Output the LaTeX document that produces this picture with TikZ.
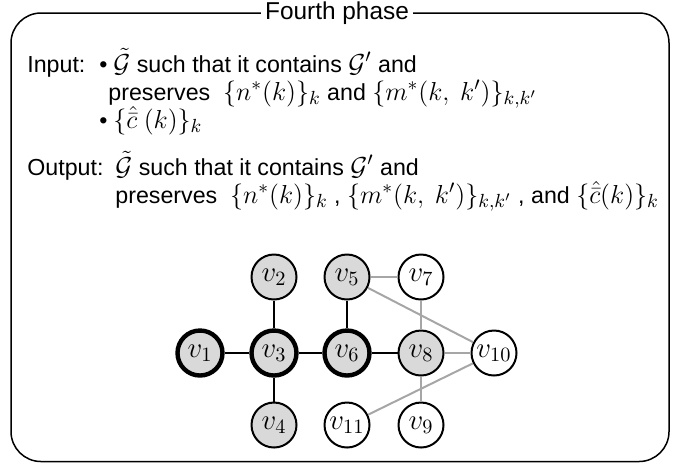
\RequirePackage{fix-cm}
\documentclass[tikz,border=0pt]{standalone}
\usepackage{amsmath, amssymb}
\usepackage{fontspec}
\setmainfont{Liberation Sans}
\usepackage{tikz}
\DeclareMathSizes{11.6}{13}{9.5}{7}

\begin{document}
\begin{tikzpicture}[x=0.5pt, y=-0.5pt,
    vtx/.style={circle, draw=black, line width=1pt, fill=black!15, minimum size=22.5pt, inner sep=0pt, font=\fontsize{14.5}{16}\selectfont},
    vbold/.style={vtx, line width=2.2pt},
    vfree/.style={vtx, fill=white},
    txt/.style={anchor=base west, inner sep=0pt, font=\fontsize{11.6}{14}\selectfont}]
    \useasboundingbox (0,0) rectangle (678,463);

    % Frame with its title
    \draw[line width=0.75pt, rounded corners=15pt] (11,13) rectangle (669,461.5);
    \node[fill=white, inner sep=2pt, font=\fontsize{12.2}{15}\selectfont] (title) at (337,13) {Fourth phase};

    % Input and output
    \node[txt] (in) at (27,72) {Input:};
    \node[txt] (b1) at (99,72) {\textbullet};
    \node[txt] (in1) at (113,72) {$\tilde{\mathcal{G}}$ such that it contains $\mathcal{G}'$ and};
    \node[txt] (in2) at (108,100) {preserves~ $\{n^{*}(k)\}_{k}$ and $\{m^{*}(k,\ k')\}_{k,k'}$};
    \node[txt] (b2) at (99,128) {\textbullet};
    \node[txt] (in3) at (113,128) {$\{\hat{\bar{c}}\ (k)\}_{k}$};
    \node[txt] (out) at (27,175) {Output:};
    \node[txt] (out1) at (115,175) {$\tilde{\mathcal{G}}$ such that it contains $\mathcal{G}'$ and};
    \node[txt] (out2) at (115,203) {preserves~ $\{n^{*}(k)\}_{k}$ , $\{m^{*}(k,\ k')\}_{k,k'}$ , and $\{\hat{\bar{c}}(k)\}_{k}$};

    % Vertices
    \foreach \n/\x/\y/\s in {1/200/353/vbold, 3/274/353/vbold, 6/347/353/vbold,
        2/274/277/vtx, 4/274/425/vtx, 5/347/277/vtx, 8/421/353/vtx,
        7/421/277/vfree, 9/421/425/vfree, 10/494/353/vfree, 11/347/425/vfree}
        \node[\s] (v\n) at (\x,\y) {$v_{\n}$};

    % Edges
    \foreach \a/\b in {5/7, 5/10, 7/8, 8/10, 8/9, 10/11}
        \draw[black!35, line width=1pt] (v\a) -- (v\b);
    \foreach \a/\b in {1/3, 3/2, 3/4, 3/6, 6/5, 6/8}
        \draw[line width=1pt] (v\a) -- (v\b);
\end{tikzpicture}
\end{document}
